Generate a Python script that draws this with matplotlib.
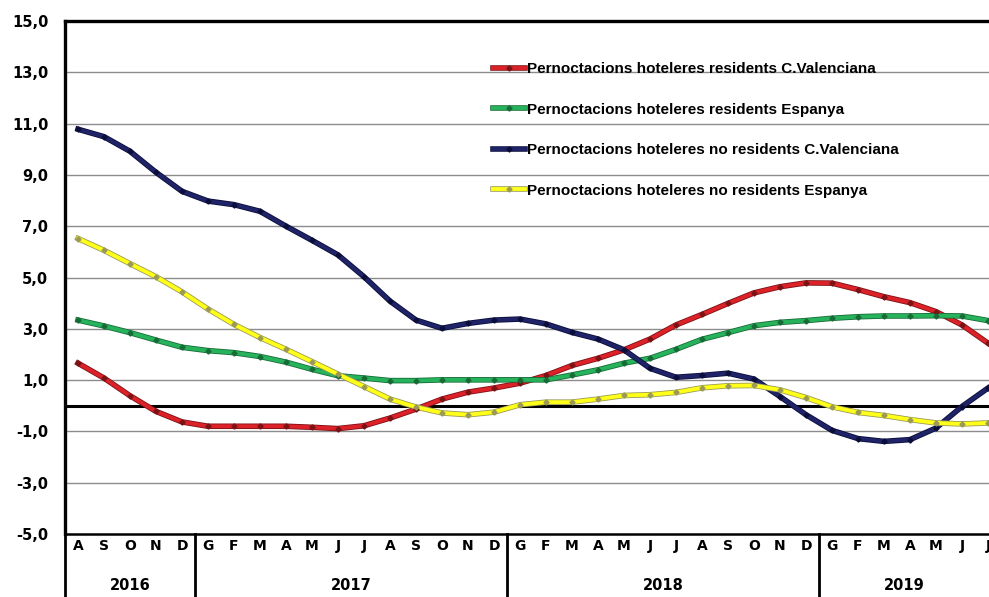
import numpy as np
import matplotlib
matplotlib.use("Agg")
import matplotlib.pyplot as plt
import matplotlib.patheffects as pe
import matplotlib.transforms as mtransforms
from matplotlib.lines import Line2D

# months Aug 2016 - Jul 2019 (catalan initials)
mesos = ["A", "S", "O", "N", "D",
         "G", "F", "M", "A", "M", "J", "J", "A", "S", "O", "N", "D",
         "G", "F", "M", "A", "M", "J", "J", "A", "S", "O", "N", "D",
         "G", "F", "M", "A", "M", "J", "J"]
anys = ["2016", "2017", "2018", "2019"]
mesos_per_any = [5, 12, 12, 7]

res_cv = [1.66, 1.08, 0.39, -0.22, -0.63, -0.80, -0.80, -0.80, -0.80, -0.84, -0.89,
          -0.78, -0.48, -0.13, 0.26, 0.53, 0.69, 0.88, 1.18, 1.57, 1.85,
          2.18, 2.60, 3.15, 3.56, 3.99, 4.40, 4.64, 4.79, 4.78,
          4.53, 4.25, 4.02, 3.67, 3.15, 2.44]
res_esp = [3.34, 3.11, 2.85, 2.56, 2.28, 2.15, 2.07, 1.92, 1.70, 1.42, 1.17,
           1.08, 0.98, 0.98, 1.01, 1.01, 1.01, 1.01, 1.01, 1.20, 1.40,
           1.66, 1.85, 2.20, 2.59, 2.85, 3.12, 3.25, 3.32, 3.41,
           3.47, 3.50, 3.50, 3.51, 3.50, 3.32]
nores_cv = [10.78, 10.49, 9.92, 9.10, 8.36, 7.98, 7.84, 7.58, 7.00, 6.45, 5.88,
            5.03, 4.08, 3.34, 3.02, 3.21, 3.34, 3.38, 3.19, 2.86, 2.60,
            2.18, 1.46, 1.11, 1.18, 1.27, 1.04, 0.36, -0.35, -0.96,
            -1.28, -1.39, -1.32, -0.87, -0.03, 0.69]
nores_esp = [6.52, 6.06, 5.54, 5.03, 4.44, 3.77, 3.17, 2.66, 2.20, 1.72, 1.23,
             0.75, 0.26, -0.05, -0.28, -0.35, -0.25, 0.04, 0.14, 0.14, 0.26,
             0.40, 0.43, 0.52, 0.70, 0.78, 0.79, 0.62, 0.32, -0.04,
             -0.26, -0.38, -0.54, -0.67, -0.71, -0.67]

series = [
    ("Pernoctacions hoteleres residents C.Valenciana", res_cv, "#dc2128", "#7a1216"),
    ("Pernoctacions hoteleres residents Espanya", res_esp, "#27b35c", "#176b36"),
    ("Pernoctacions hoteleres no residents C.Valenciana", nores_cv, "#1f2468", "#0b0d3a"),
    ("Pernoctacions hoteleres no residents Espanya", nores_esp, "#ffff1a", "#9a9a55"),
]

W, H = 989, 597
fig = plt.figure(figsize=(W / 100, H / 100), dpi=100)
# plot area: left 65 px, top 21 px, bottom 534 px, 26 px per month (runs past the right edge)
ax = fig.add_axes([65 / W, (H - 534) / H, 936 / W, 513 / H])

x = np.arange(len(mesos))
handles, labels = [], []
for label, vals, col, dark in series:
    outline = [pe.Stroke(linewidth=4.0, foreground=dark), pe.Normal()]
    ln, = ax.plot(x, vals, color=col, lw=2.8, zorder=3, solid_joinstyle="round",
                  path_effects=outline)
    mk, = ax.plot(x, vals, ls="none", marker="D", ms=2.6, mfc=dark, mec=dark, zorder=4)
    handles.append((ln, mk))
    labels.append(label)

ax.set_xlim(-0.5, len(mesos) - 0.5)
ax.set_ylim(-5, 15)
ax.set_yticks(np.arange(-5, 16, 2))
ax.set_yticklabels([f"{v:.1f}".replace(".", ",") for v in np.arange(-5, 16, 2)],
                   fontsize=10.5, fontweight="bold", family="DejaVu Sans")
ax.tick_params(axis="y", length=0, pad=12)
ax.set_xticks([])

for v in np.arange(-3, 15, 2):
    ax.axhline(v, color="#8c8c8c", lw=1, zorder=1)
ax.axhline(0, color="black", lw=2.2, zorder=2)

for s in ["left", "top"]:
    ax.spines[s].set_linewidth(2.4)
ax.spines["bottom"].set_linewidth(1.8)
ax.spines["right"].set_visible(False)

# category axis under the plot
trans = mtransforms.blended_transform_factory(ax.transData, ax.transAxes)
for i, m in enumerate(mesos):
    ax.text(i, -0.024, m, transform=trans, ha="center", va="center",
            fontsize=10, fontweight="bold", family="DejaVu Sans", clip_on=False)

start = 0
xmax_visible = (W - 65) / 26 - 0.5
for nom, n in zip(anys, mesos_per_any):
    a, b = start - 0.5, start + n - 0.5
    ax.plot([a, a], [0, -0.2], transform=trans, color="black", lw=2.0, clip_on=False)
    centre = (a + min(b, xmax_visible)) / 2
    ax.text(centre, -0.1, nom, transform=trans, ha="center", va="center",
            fontsize=10.5, fontweight="bold", family="DejaVu Sans", clip_on=False)
    start += n

leg = ax.legend(handles, labels, loc="upper left", bbox_to_anchor=(493 / W, 1 - 62 / H),
                bbox_transform=fig.transFigure, frameon=False,
                prop={"family": "Liberation Sans", "weight": "bold", "size": 11},
                handlelength=2.1, handletextpad=0.12, labelspacing=1.74,
                borderpad=0, borderaxespad=0)

fig.savefig("out.png", dpi=100)
